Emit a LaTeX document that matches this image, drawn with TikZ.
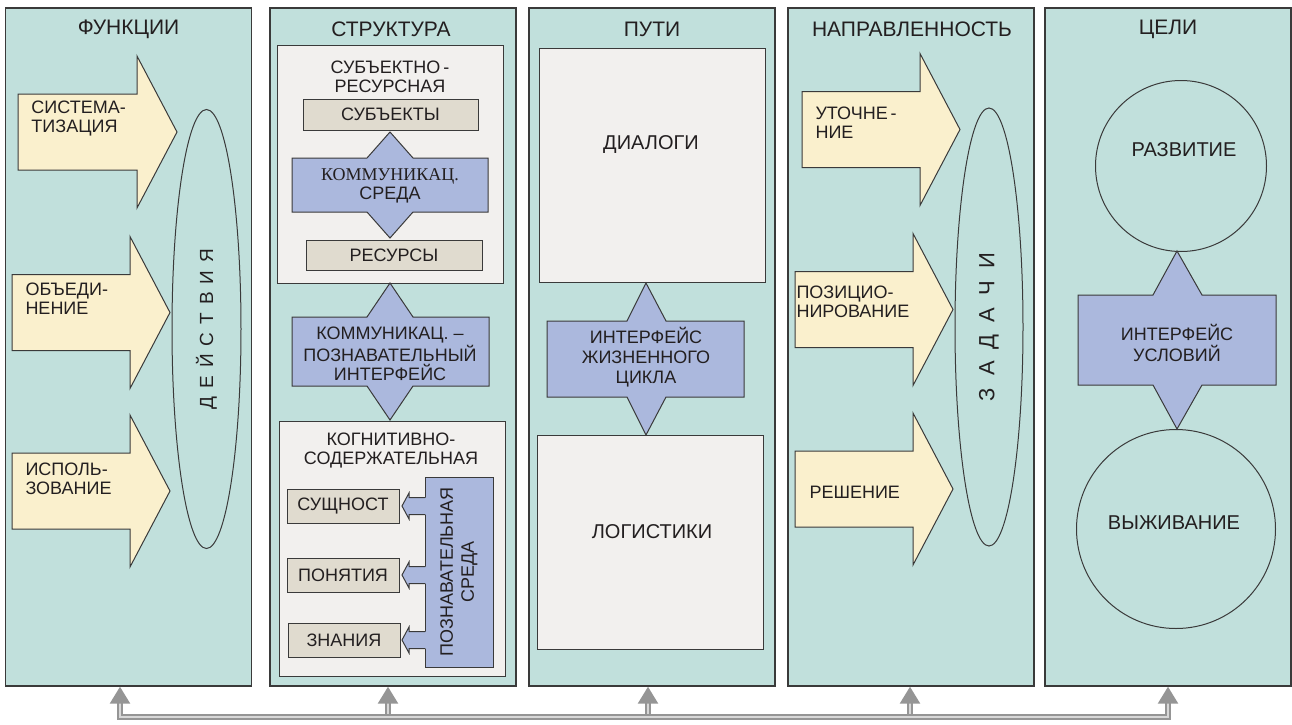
\documentclass[tikz,border=0pt]{standalone}
\usepackage{fontspec}
\setmainfont{Liberation Sans}
\newfontfamily\timesfont{Liberation Serif}
\usetikzlibrary{arrows.meta,shapes.geometric}

\definecolor{colfill}{HTML}{C1E0DC}
\definecolor{arrfill}{HTML}{FAF0CD}
\definecolor{ifill}{HTML}{ABB8DD}
\definecolor{boxfill}{HTML}{E0DBCF}
\definecolor{panfill}{HTML}{F2F0EE}
\definecolor{edge}{HTML}{3A3A3A}
\definecolor{txt}{HTML}{231F20}
\definecolor{link}{HTML}{959595}
\definecolor{linkin}{HTML}{D8D8D8}

\newcommand\lgap{\hspace{4pt}}
\newcommand\wgap{\hspace{6pt}}

\tikzset{
  col/.style={draw=edge, line width=0.7pt, fill=colfill, inner sep=0pt,
    minimum width=123pt, minimum height=339pt},
  head/.style={font=\fontsize{10.5}{12}\selectfont, inner sep=0pt},
  big/.style={font=\fontsize{10}{12}\selectfont, inner sep=0pt},
  lab/.style={font=\fontsize{9}{9.5}\selectfont, align=left, inner sep=0pt, anchor=west},
  ctr/.style={font=\fontsize{9}{9.5}\selectfont, align=center, inner sep=0pt},
  item/.style={draw=edge, fill=boxfill, font=\fontsize{9}{10}\selectfont, inner sep=0pt},
  panel/.style={draw=edge, fill=panfill, inner sep=0pt},
  iface/.style={draw=edge, fill=ifill},
  arrshape/.style={draw=edge, fill=arrfill},
  oval/.style={draw=edge, ellipse, rotate=90, inner sep=0pt},
  circ/.style={draw=edge, circle, inner sep=0pt},
  bus/.style={draw=link, line width=1.3pt, double=linkin, double distance=0.8pt},
  bustip/.style={-{Triangle[width=10pt,length=8.5pt,fill=link]}}
}

\begin{document}
\begin{tikzpicture}[x=0.5pt, y=-0.5pt, line width=0.5pt,
    every node/.append style={text=txt}]
  \useasboundingbox (0,0) rectangle (1292,724);

  % columns
  \node[col] (fun) at (128.5,347) {};
  \node[col] (str) at (393,347) {};
  \node[col] (way) at (652,347) {};
  \node[col] (dir) at (911,347) {};
  \node[col] (goal) at (1168,347) {};
  \node[head] (funt) at (128.5,29) {ФУНКЦИИ};
  \node[head] (strt) at (391,29) {СТРУКТУРА};
  \node[head] (wayt) at (652,29) {ПУТИ};
  \node[head] (dirt) at (912,29) {НАПРАВЛЕННОСТЬ};
  \node[head] (goalt) at (1168,29) {ЦЕЛИ};

  % block arrows of columns 1 and 4
  \foreach \xa/\xb/\xc/\yc in {18/137/177/132, 12/130/170/312.5, 12/130/170/491,
      802/920/960/129.5, 795/913/953/309.5, 795/913/953/489}
    \draw[arrshape] (\xa,\yc-38) -- (\xb,\yc-38) -- (\xb,\yc-76) -- (\xc,\yc)
      -- (\xb,\yc+76) -- (\xb,\yc+38) -- (\xa,\yc+38) -- cycle;
  \node[lab] (sys) at (31,119) {СИСТЕМА-\\ТИЗАЦИЯ};
  \node[lab] (uni) at (25,299) {ОБЪЕДИ-\\НЕНИЕ};
  \node[lab] (use) at (25,479) {ИСПОЛЬ-\\ЗОВАНИЕ};
  \node[lab] (refine) at (815,123) {УТОЧНЕ\,-\\НИЕ};
  \node[lab] (pos) at (796,302) {ПОЗИЦИО-\\НИРОВАНИЕ};
  \node[lab] (solve) at (809,492) {РЕШЕНИЕ};

  \node[oval, minimum width=219.5pt, minimum height=34.5pt,
    font=\fontsize{9.5}{11}\selectfont] (act) at (206.5,329)
    {Д\lgap Е\lgap Й\lgap С\lgap Т\lgap В\lgap И\lgap Я};
  \node[oval, minimum width=219pt, minimum height=34pt,
    font=\fontsize{11}{13}\selectfont] (task) at (989,327)
    {З\wgap А\wgap Д\wgap А\wgap Ч\wgap И};

  % column 2
  \node[panel, minimum width=113pt, minimum height=119pt] (subjres) at (390,164) {};
  \node[ctr] (subjrest) at (390,77) {СУБЪЕКТНО\,-\\РЕСУРСНАЯ};
  \node[item, minimum width=87.5pt, minimum height=15.5pt] (subj) at (390.5,114.5) {СУБЪЕКТЫ};
  \node[item, minimum width=88pt, minimum height=15pt] (res) at (394,255) {РЕСУРСЫ};
  \draw[iface] (292,158) -- (367,158) -- (390,132) -- (413,158) -- (488,158)
    -- (488,212) -- (413,212) -- (390,238) -- (367,212) -- (292,212) -- cycle;
  \node[ctr] (comm) at (390,186) {{\timesfont КОММУНИКАЦ.}\\СРЕДА};

  \node[panel, minimum width=113pt, minimum height=127.5pt] (cogcont) at (392,548.5) {};
  \node[ctr] (cogcontt) at (391,451) {КОГНИТИВНО-\\СОДЕРЖАТЕЛЬНАЯ};
  \draw[iface] (292,317) -- (367,317) -- (390,283) -- (413,317) -- (489,317)
    -- (489,386) -- (413,386) -- (390,420) -- (367,386) -- (292,386) -- cycle;
  \node[ctr] (cogif) at (390,354) {КОММУНИКАЦ. –\\ПОЗНАВАТЕЛЬНЫЙ\\ИНТЕРФЕЙС};

  \node[iface, rotate=90, minimum width=95pt, minimum height=34pt, align=center,
    inner sep=0pt, font=\fontsize{9}{10.5}\selectfont] (cogenv) at (459,572)
    {ПОЗНАВАТЕЛЬНАЯ\\СРЕДА};
  \node[item, minimum width=56pt, minimum height=17pt] (ess) at (343,506) {СУЩНОСТ};
  \node[item, minimum width=56pt, minimum height=17pt] (conc) at (343,575) {ПОНЯТИЯ};
  \node[item, minimum width=56pt, minimum height=17pt] (know) at (344,640) {ЗНАНИЯ};
  \foreach \yy in {506,575,640} {
    \fill[ifill] (426.5,\yy-8.5) -- (409,\yy-8.5) -- (409,\yy-13) -- (402,\yy)
      -- (409,\yy+13) -- (409,\yy+8.5) -- (426.5,\yy+8.5) -- cycle;
    \draw[edge] (425,\yy-8.5) -- (409,\yy-8.5) -- (409,\yy-13) -- (402,\yy)
      -- (409,\yy+13) -- (409,\yy+8.5) -- (425,\yy+8.5);
  }

  % column 3
  \node[panel, minimum width=113pt, minimum height=117pt] (dial) at (652,165) {};
  \node[big] (dialt) at (651,145) {ДИАЛОГИ};
  \node[panel, minimum width=113pt, minimum height=107pt] (logi) at (650,542) {};
  \node[big] (logit) at (652,532) {ЛОГИСТИКИ};
  \draw[iface] (547,321) -- (627,321) -- (646,283) -- (666,321) -- (744,321)
    -- (744,397) -- (666,397) -- (646,435) -- (627,397) -- (547,397) -- cycle;
  \node[ctr, font=\fontsize{9}{10}\selectfont] (life) at (646,357)
    {ИНТЕРФЕЙС\\ЖИЗНЕННОГО\\ЦИКЛА};

  % column 5
  \node[circ, minimum size=85.5pt] (dev) at (1181,166) {};
  \node[big] (devt) at (1184,150) {РАЗВИТИЕ};
  \draw[iface] (1078,295) -- (1153,295) -- (1177,251) -- (1202,295) -- (1276,295)
    -- (1276,385) -- (1202,385) -- (1177,429) -- (1153,385) -- (1078,385) -- cycle;
  \node[ctr, font=\fontsize{9}{10.5}\selectfont] (cond) at (1177,343) {ИНТЕРФЕЙС\\УСЛОВИЙ};
  \node[circ, minimum size=99.5pt] (surv) at (1176,529) {};
  \node[big] (survt) at (1174,523) {ВЫЖИВАНИЕ};

  % links below
  \coordinate (b1) at (120,717);
  \coordinate (b2) at (388,717);
  \coordinate (b3) at (648,717);
  \coordinate (b4) at (910,717);
  \coordinate (b5) at (1168,717);
  \foreach \b/\c in {b2/str, b3/way, b4/dir}
    \draw[bus, bustip] (\b) -- (\b |- \c.south);
  \draw[bus, {Triangle[width=10pt,length=8.5pt,fill=link]}-{Triangle[width=10pt,length=8.5pt,fill=link]}]
    (b1 |- fun.south) -- (b1) -- (b5) -- (b5 |- goal.south);
\end{tikzpicture}
\end{document}
